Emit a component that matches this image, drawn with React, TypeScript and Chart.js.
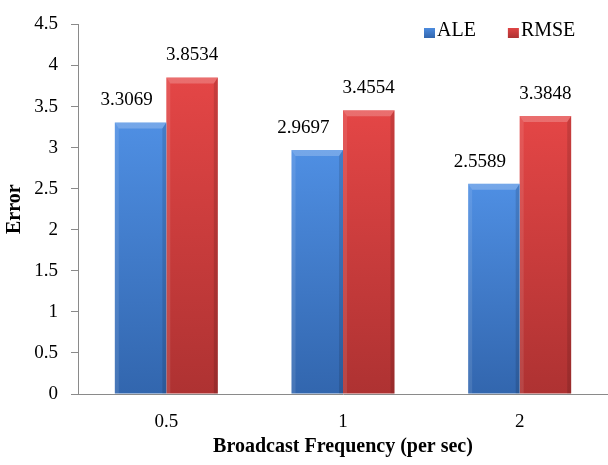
import { useEffect, useRef } from "react";
import { Chart, registerables } from "chart.js";

Chart.register(...registerables);

const categories = ["0.5", "1", "2"];
const seriesNames = ["ALE", "RMSE"];
const aleValues = [3.3069, 2.9697, 2.5589];
const rmseValues = [3.8534, 3.4554, 3.3848];
const yMin = 0;
const yMax = 4.5;
const yStep = 0.5;
const xTitle = "Broadcast Frequency (per sec)";
const yTitle = "Error";

const SERIF = '"Liberation Serif", "Times New Roman", serif';
const PALETTE = [
  { top: "#4f8fe3", bottom: "#3266ae", solid: "#3d76c6" },
  { top: "#e44646", bottom: "#ae3232", solid: "#cf3b3b" },
];
// horizontal shift of each series' value labels (style only)
const LABEL_DX = [-14, 0];
const LABEL_LIFT = 22;

function barGradient(c: any, i: number) {
  const chart = c.chart;
  const p = PALETTE[i];
  if (!chart.chartArea || !c.parsed || !chart.scales.y) return p.solid;
  const yScale = chart.scales.y;
  const top = yScale.getPixelForValue(c.parsed.y);
  const bottom = yScale.getPixelForValue(0);
  if (!isFinite(top) || !isFinite(bottom) || bottom - top < 1) return p.solid;
  const g = chart.ctx.createLinearGradient(0, top, 0, bottom);
  g.addColorStop(0, p.top);
  g.addColorStop(1, p.bottom);
  return g;
}

const bevelPlugin = {
  id: "bevel",
  afterDatasetsDraw(chart: any) {
    const ctx = chart.ctx;
    ctx.save();
    chart.data.datasets.forEach((_ds: any, di: number) => {
      const meta = chart.getDatasetMeta(di);
      meta.data.forEach((bar: any) => {
        const { x, y, base, width } = bar.getProps(["x", "y", "base", "width"], true);
        const l = x - width / 2;
        const r = x + width / 2;
        ctx.fillStyle = "rgba(255,255,255,0.22)";
        ctx.beginPath();
        ctx.moveTo(l, y);
        ctx.lineTo(r, y);
        ctx.lineTo(r - 4, y + 6);
        ctx.lineTo(l + 4, y + 6);
        ctx.closePath();
        ctx.fill();
        ctx.fillStyle = "rgba(0,0,0,0.12)";
        ctx.beginPath();
        ctx.moveTo(r, y);
        ctx.lineTo(r, base);
        ctx.lineTo(r - 4, base);
        ctx.lineTo(r - 4, y + 6);
        ctx.closePath();
        ctx.fill();
        ctx.fillStyle = "rgba(255,255,255,0.10)";
        ctx.beginPath();
        ctx.moveTo(l, y);
        ctx.lineTo(l + 4, y + 6);
        ctx.lineTo(l + 4, base);
        ctx.lineTo(l, base);
        ctx.closePath();
        ctx.fill();
      });
    });
    ctx.restore();
  },
};

const valueLabelPlugin = {
  id: "valueLabels",
  afterDatasetsDraw(chart: any) {
    const ctx = chart.ctx;
    ctx.save();
    ctx.font = `19px ${SERIF}`;
    ctx.fillStyle = "#000";
    ctx.textAlign = "center";
    ctx.textBaseline = "middle";
    chart.data.datasets.forEach((ds: any, di: number) => {
      const meta = chart.getDatasetMeta(di);
      meta.data.forEach((bar: any, i: number) => {
        const v = ds.data[i];
        ctx.fillText(v.toFixed(4), bar.x + LABEL_DX[di], bar.y - LABEL_LIFT);
      });
    });
    ctx.restore();
  },
};

const cornerLegendPlugin = {
  id: "cornerLegend",
  afterDraw(chart: any) {
    const ctx = chart.ctx;
    ctx.save();
    ctx.font = `20px ${SERIF}`;
    ctx.textBaseline = "middle";
    ctx.textAlign = "left";
    let x = chart.width - 184;
    const y = 31;
    chart.data.datasets.forEach((ds: any, i: number) => {
      const p = PALETTE[i];
      const g = ctx.createLinearGradient(0, y - 4, 0, y + 7);
      g.addColorStop(0, p.top);
      g.addColorStop(1, p.bottom);
      ctx.fillStyle = g;
      ctx.fillRect(x, y - 3, 11, 10);
      ctx.fillStyle = "#000";
      ctx.fillText(ds.label, x + 13, y);
      x += 13 + ctx.measureText(ds.label).width + 32;
    });
    ctx.restore();
  },
};

export default function App() {
  const ref = useRef<HTMLCanvasElement | null>(null);

  useEffect(() => {
    if (!ref.current) return;
    const chart = new Chart(ref.current, {
      type: "bar",
      data: {
        labels: categories,
        datasets: [
          {
            label: seriesNames[0],
            data: aleValues,
            backgroundColor: (c: any) => barGradient(c, 0),
            borderWidth: 0,
            categoryPercentage: 0.583,
            barPercentage: 1,
          },
          {
            label: seriesNames[1],
            data: rmseValues,
            backgroundColor: (c: any) => barGradient(c, 1),
            borderWidth: 0,
            categoryPercentage: 0.583,
            barPercentage: 1,
          },
        ],
      },
      options: {
        responsive: true,
        maintainAspectRatio: false,
        animation: false,
        devicePixelRatio: 1,
        layout: { padding: { top: 15, right: 0, left: 0, bottom: 0 } },
        plugins: {
          legend: { display: false },
          tooltip: { enabled: false },
        },
        scales: {
          x: {
            grid: { display: false },
            border: { display: true, color: "#8a8a8a", width: 1 },
            ticks: {
              color: "#000",
              font: { family: SERIF, size: 19 },
              padding: 9,
            },
            title: {
              display: true,
              text: xTitle,
              color: "#000",
              font: { family: SERIF, size: 20, weight: "bold" },
              padding: { top: 0, bottom: 6 },
            },
            afterFit: (scale: any) => {
              scale.height = 71;
            },
          },
          y: {
            min: yMin,
            max: yMax,
            ticks: {
              stepSize: yStep,
              color: "#000",
              font: { family: SERIF, size: 19 },
              padding: 13,
              callback: (v: any) => String(v),
            },
            grid: {
              display: true,
              drawOnChartArea: false,
              drawTicks: true,
              tickLength: 7,
              color: "#8a8a8a",
            },
            border: { display: true, color: "#8a8a8a", width: 1 },
            title: {
              display: true,
              text: yTitle,
              color: "#000",
              font: { family: SERIF, size: 20, weight: "bold" },
              padding: { top: 3, bottom: 0 },
            },
            afterFit: (scale: any) => {
              scale.width = 78;
            },
          },
        },
      },
      plugins: [bevelPlugin, valueLabelPlugin, cornerLegendPlugin],
    });
    return () => chart.destroy();
  }, []);

  return (
    <div style={{ position: "absolute", left: 0, top: 0, width: 608, height: 465, background: "#fff" }}>
      <canvas ref={ref} />
    </div>
  );
}
